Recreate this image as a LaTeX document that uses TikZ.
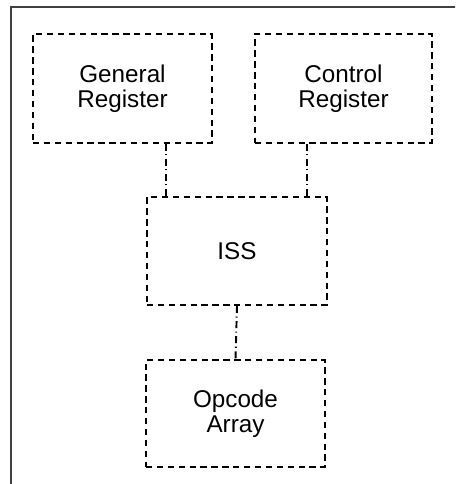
\documentclass[tikz,border=0pt]{standalone}
\usepackage{fontspec}
\setmainfont{Liberation Sans}

\begin{document}
\begin{tikzpicture}[
    regbox/.style={draw, line width=1.1pt, dash pattern=on 3.6pt off 2.6pt,
      align=center, font=\fontsize{13.8}{14.3}\selectfont, inner sep=0pt},
    link/.style={line width=1.1pt, dash pattern=on 4pt off 2pt on 0.6pt off 2pt}]
  % Picture area (the frame runs past the right and bottom edges)
  \clip (0,0) rectangle (9.1,-9.68);
  \draw[line width=1.1pt, black!75] (0.22,-0.14) rectangle (9.6,-10.2);

  % Blocks
  \node[regbox, minimum width=3.58cm, minimum height=2.18cm] (genreg) at (2.45,-1.77) {General\\Register};
  \node[regbox, minimum width=3.54cm, minimum height=2.18cm] (ctrlreg) at (6.87,-1.77) {Control\\Register};
  \node[regbox, minimum width=3.6cm, minimum height=2.16cm] (iss) at (4.74,-5.02) {ISS};
  \node[regbox, minimum width=3.58cm, minimum height=2.14cm] (opcode) at (4.71,-8.27) {Opcode\\Array};

  % Links between the blocks
  \coordinate (gl) at ([xshift=0.4cm]iss.north west);
  \coordinate (cl) at ([xshift=-0.42cm]iss.north east);
  \draw[link] (gl) -- (gl |- genreg.south);
  \draw[link] (cl) -- (cl |- ctrlreg.south);
  \draw[link] (iss.south) -- (opcode.north);
\end{tikzpicture}
\end{document}
